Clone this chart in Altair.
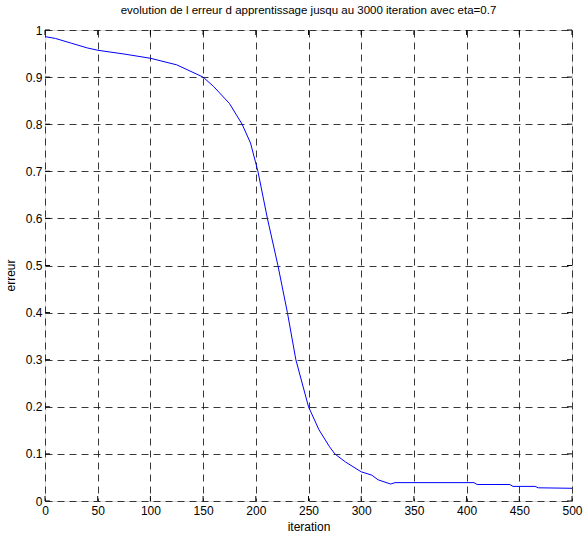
import altair as alt
import pandas as pd

# curve
iterations = [0, 10, 25, 40, 50, 75, 100, 125, 150, 160, 165, 175, 187, 195, 202,
              211, 221, 230, 238, 250, 260, 270, 275, 285, 300, 310, 316, 328, 332,
              407, 410, 441, 444, 465, 468, 500]
errors = [0.986, 0.982, 0.972, 0.962, 0.957, 0.949, 0.940, 0.926, 0.900, 0.880, 0.868,
          0.844, 0.800, 0.760, 0.700, 0.600, 0.500, 0.400, 0.300, 0.200, 0.151, 0.115,
          0.100, 0.083, 0.062, 0.055, 0.045, 0.036, 0.039, 0.039, 0.035, 0.035, 0.031,
          0.031, 0.028, 0.027]

x_ticks = [0, 50, 100, 150, 200, 250, 300, 350, 400, 450, 500]
y_ticks = [0, 0.1, 0.2, 0.3, 0.4, 0.5, 0.6, 0.7, 0.8, 0.9, 1]

title_text = "evolution de l erreur d apprentissage jusqu au 3000 iteration avec eta=0.7"
x_title = "iteration"
y_title = "erreur"

W, H = 527, 471
FONT = "Liberation Sans"
TICK = 5

df = pd.DataFrame({"iteration": iterations, "erreur": errors})
xt = pd.DataFrame({"iteration": x_ticks})
yt = pd.DataFrame({"erreur": y_ticks})

xscale = alt.Scale(domain=[0, 500], nice=False, zero=False)
yscale = alt.Scale(domain=[0, 1], nice=False, zero=False)

common_axis = dict(
    grid=True, gridDash=[7, 5], gridColor="#222", gridWidth=1, gridOpacity=0.9,
    ticks=False, tickSize=0, domain=False, labelFlush=False, labelOverlap=False,
    labelFont=FONT, labelFontSize=12, labelColor="#000",
    titleFont=FONT, titleFontSize=12, titleColor="#000", titleFontWeight="normal",
)

line = alt.Chart(df).mark_line(color="#0000ff", strokeWidth=1).encode(
    x=alt.X("iteration:Q", scale=xscale,
            axis=alt.Axis(values=x_ticks, title=x_title, labelPadding=4,
                          titlePadding=5, format="d", **common_axis)),
    y=alt.Y("erreur:Q", scale=yscale,
            axis=alt.Axis(values=y_ticks, title=y_title, labelPadding=3,
                          titlePadding=8, titleY=245, format=".1~f", **common_axis)),
)

bottom_ticks = alt.Chart(xt).mark_rule(color="#000").encode(
    x=alt.X("iteration:Q", scale=xscale), y=alt.value(H - TICK), y2=alt.value(H))
top_ticks = alt.Chart(xt).mark_rule(color="#000").encode(
    x=alt.X("iteration:Q", scale=xscale), y=alt.value(0), y2=alt.value(TICK))
left_ticks = alt.Chart(yt).mark_rule(color="#000").encode(
    y=alt.Y("erreur:Q", scale=yscale), x=alt.value(0), x2=alt.value(TICK))
right_ticks = alt.Chart(yt).mark_rule(color="#000").encode(
    y=alt.Y("erreur:Q", scale=yscale), x=alt.value(W - TICK), x2=alt.value(W))

chart = alt.layer(line, bottom_ticks, top_ticks, left_ticks, right_ticks).properties(
    width=W, height=H,
    title=alt.TitleParams(title_text, font=FONT, fontSize=11.5, fontWeight="normal",
                          color="#000", anchor="middle", offset=8),
    padding={"left": 45, "top": 30, "right": 12, "bottom": 34},
    autosize="none",
).configure_view(stroke="#000", strokeWidth=1).configure(background="white")

chart.save("out.html", embed_options={"renderer": "svg", "actions": False})
